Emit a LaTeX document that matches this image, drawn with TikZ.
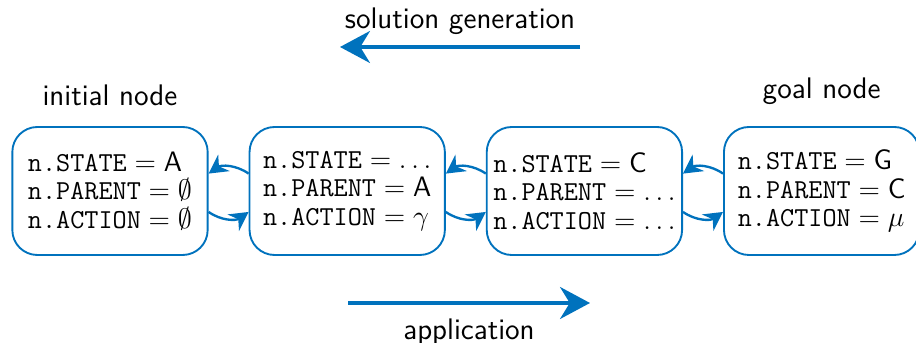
\documentclass[tikz,border=0pt]{standalone}
\usepackage{amsmath}
\usepackage{tikz}
\usepackage{xcolor}
\usetikzlibrary{positioning,arrows.meta,calc}
\definecolor{linkblue}{RGB}{0,114,189}

\begin{document}
\begin{tikzpicture}[
    searchnode/.style={draw=linkblue, thick, rounded corners=0.375cm,
        minimum width=2.93cm, minimum height=1.92cm, align=left,
        inner sep=2pt, font=\fontsize{11.7}{12.2}\selectfont},
    linkarrow/.style={-{Stealth[length=0.28cm,width=0.3cm]}, linkblue, line width=1pt, bend right=35},
    flowarrow/.style={-{Stealth[length=0.45cm,width=0.48cm]}, linkblue, line width=1.4pt},
    caption/.style={font=\sffamily\fontsize{12.7}{15}\selectfont}
]
    % frame
    \useasboundingbox (0,0) rectangle (13.74,5.145);
    % search nodes
    \node[searchnode] (start) at (1.65,2.28)
        {$\texttt{n.STATE} = \mathsf{A}$\\ $\texttt{n.PARENT} = \emptyset$\\ $\texttt{n.ACTION} = \emptyset$};
    \node[searchnode, right=0.6cm of start] (mid1)
        {$\texttt{n.STATE} = \ldots$\\ $\texttt{n.PARENT} = \mathsf{A}$\\ $\texttt{n.ACTION} = \gamma$};
    \node[searchnode, right=0.6cm of mid1] (mid2)
        {$\texttt{n.STATE} = \mathsf{C}$\\ $\texttt{n.PARENT} = \ldots$\\ $\texttt{n.ACTION} = \ldots$};
    \node[searchnode, right=0.6cm of mid2] (goal)
        {$\texttt{n.STATE} = \mathsf{G}$\\ $\texttt{n.PARENT} = \mathsf{C}$\\ $\texttt{n.ACTION} = \mu$};
    % node captions
    \node[caption, above=0.18cm of start] (start-label) {initial node};
    \node[caption, above=0.2cm of goal] (goal-label) {goal node};
    % links between neighbours
    \draw[linkarrow] (mid1.170) to (start.10);
    \draw[linkarrow] (start.-12) to (mid1.-168);
    \draw[linkarrow] (mid2.170) to (mid1.10);
    \draw[linkarrow] (mid1.-12) to (mid2.-168);
    \draw[linkarrow] (goal.170) to (mid2.10);
    \draw[linkarrow] (mid2.-12) to (goal.-168);
    % solution generation
    \coordinate (gen-start) at (8.7,4.44);
    \coordinate (gen-end) at (5.1,4.44);
    \draw[flowarrow] (gen-start) -- (gen-end);
    \node[caption, above=0.06cm] (gen-label) at ($(gen-start)!0.5!(gen-end)$) {solution generation};
    % application
    \coordinate (app-start) at (5.22,0.6);
    \coordinate (app-end) at (8.85,0.6);
    \draw[flowarrow] (app-start) -- (app-end);
    \node[caption, below=0.12cm] (app-label) at ($(app-start)!0.5!(app-end)$) {application};
\end{tikzpicture}
\end{document}
